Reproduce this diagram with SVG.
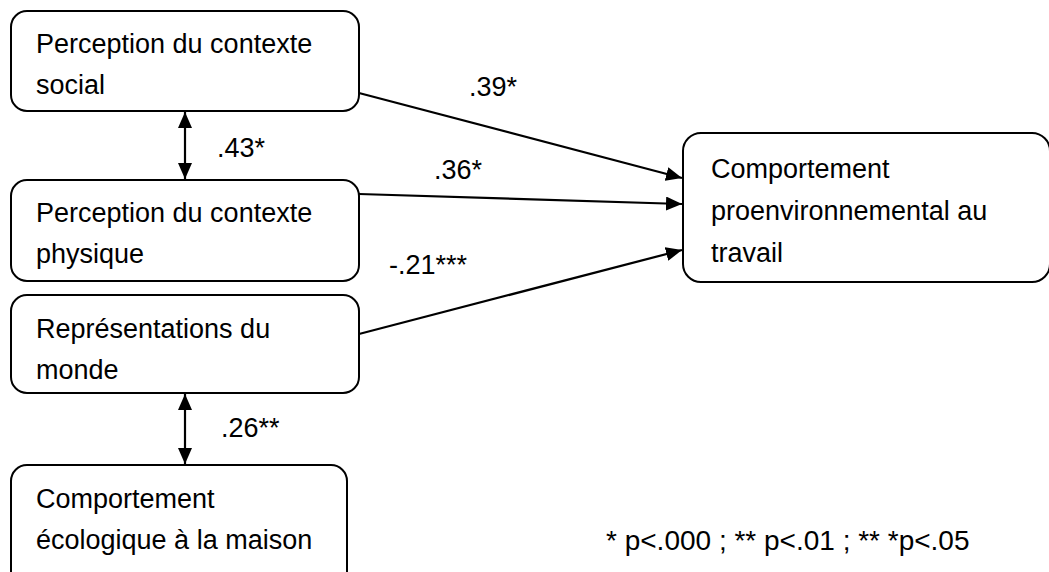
<svg xmlns="http://www.w3.org/2000/svg" width="1049" height="572" viewBox="0 0 1049 572">
<defs>
<style>
.box{fill:#fff;stroke:#000;stroke-width:2}
.t{font-family:"Liberation Sans",Arial,sans-serif;font-size:27px;fill:#000}
.c{stroke:#000;stroke-width:2.2;fill:none}
</style>
<marker id="ah" viewBox="0 0 16 14" refX="16" refY="7" markerWidth="16" markerHeight="14" markerUnits="userSpaceOnUse" orient="auto-start-reverse">
<path d="M0,0 L16,7 L0,14 Z" fill="#000"/>
</marker>
</defs>
<rect width="1049" height="572" fill="#fff"/>
<g id="connectors">
<line class="c" x1="185" y1="112" x2="185" y2="179" marker-start="url(#ah)" marker-end="url(#ah)"/>
<line class="c" x1="185" y1="394" x2="185" y2="464" marker-start="url(#ah)" marker-end="url(#ah)"/>
<line class="c" x1="359" y1="93" x2="682" y2="178" marker-end="url(#ah)"/>
<line class="c" x1="359" y1="194" x2="682" y2="204" marker-end="url(#ah)"/>
<line class="c" x1="359" y1="334" x2="682" y2="250" marker-end="url(#ah)"/>
<text class="t" x="217" y="157">.43*</text>
<text class="t" x="221" y="437">.26**</text>
<text class="t" x="469" y="96">.39*</text>
<text class="t" x="434" y="179">.36*</text>
<text class="t" x="389" y="274">-.21***</text>
</g>
<g id="n1">
<rect class="box" x="11" y="11" width="348" height="100" rx="16"/>
<text class="t" x="36" y="53">Perception du contexte</text>
<text class="t" x="36" y="94">social</text>
</g>
<g id="n2">
<rect class="box" x="11" y="180" width="348" height="101" rx="16"/>
<text class="t" x="36" y="222">Perception du contexte</text>
<text class="t" x="36" y="263">physique</text>
</g>
<g id="n3">
<rect class="box" x="11" y="295" width="348" height="98" rx="16"/>
<text class="t" x="36" y="338">Représentations du</text>
<text class="t" x="36" y="379">monde</text>
</g>
<g id="n4">
<rect class="box" x="11" y="465" width="336" height="125" rx="16"/>
<text class="t" x="36" y="508">Comportement</text>
<text class="t" x="36" y="549">écologique à la maison</text>
</g>
<g id="n5">
<rect class="box" x="683" y="133" width="367" height="149" rx="18"/>
<text class="t" x="711" y="178">Comportement</text>
<text class="t" x="711" y="220">proenvironnemental au</text>
<text class="t" x="711" y="262">travail</text>
</g>
<g id="note">
<text class="t" x="606" y="550" style="font-size:28px">* p&lt;.000 ; ** p&lt;.01 ; ** *p&lt;.05</text>
</g>
</svg>
